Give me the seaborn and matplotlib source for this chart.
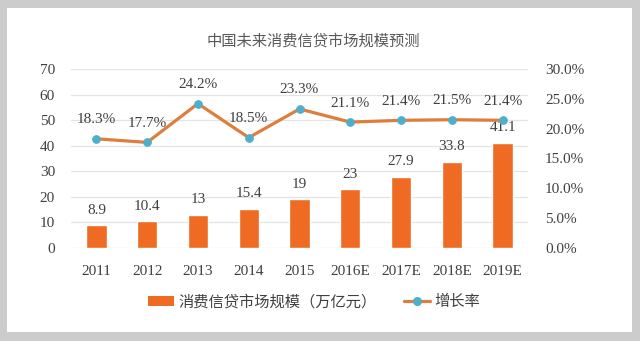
import numpy as np
import pandas as pd
import matplotlib
matplotlib.use("Agg")
import matplotlib.pyplot as plt
from matplotlib.patches import Patch, Rectangle
from matplotlib.lines import Line2D
from matplotlib.ticker import FuncFormatter, MultipleLocator
import seaborn as sns

years = ["2011", "2012", "2013", "2014", "2015", "2016E", "2017E", "2018E", "2019E"]
market_size = [8.9, 10.4, 13, 15.4, 19, 23, 27.9, 33.8, 41.1]
size_labels = ["8.9", "10.4", "13", "15.4", "19", "23", "27.9", "33.8", "41.1"]
growth_rate = [18.3, 17.7, 24.2, 18.5, 23.3, 21.1, 21.4, 21.5, 21.4]
title = "中国未来消费信贷市场规模预测"
bar_name = "消费信贷市场规模（万亿元）"
line_name = "增长率"

sns.set_theme(style="white")
plt.rcParams['font.family'] = ['Liberation Serif', 'Noto Sans CJK SC', 'DejaVu Sans']
cjk = ['Noto Sans CJK SC', 'DejaVu Sans']

BAR_C = "#EF6A22"
LINE_C = "#DF7D3C"
MARK_C = "#4FAFCB"
TXT_C = "#404040"
GRID_C = "#E3E3E3"

fig = plt.figure(figsize=(6.4, 3.41), dpi=100)
fig.patch.set_facecolor("#CCCCCC")
fig.patches.append(Rectangle((7 / 640, 1 - 332 / 341), (632 - 7) / 640, (332 - 8) / 341,
                             transform=fig.transFigure, facecolor="white",
                             edgecolor="none", zorder=-10))

ax = fig.add_axes([71 / 640, 1 - 248 / 341, (528 - 71) / 640, (248 - 69) / 341])
ax.set_facecolor("none")
df = pd.DataFrame({"year": years, "size": market_size, "rate": np.array(growth_rate) / 100})
df["pos"] = np.arange(len(years))

sns.barplot(data=df, x="year", y="size", ax=ax, color=BAR_C, saturation=1, width=0.4)
ax.set_ylim(0, 70)
ax.set_xlim(-0.5, len(years) - 0.5)
ax.yaxis.set_major_locator(MultipleLocator(10))
ax.grid(axis="y", color=GRID_C, linewidth=0.9)
ax.set_axisbelow(True)
for s in ax.spines.values():
    s.set_visible(False)
ax.tick_params(axis="both", length=0, labelsize=11, colors=TXT_C)
ax.tick_params(axis="y", pad=11.5)
ax.tick_params(axis="x", pad=12)
ax.set_xlabel("")
ax.set_ylabel("")

for p, v, lab in zip(ax.patches, market_size, size_labels):
    ax.annotate(lab, (p.get_x() + p.get_width() / 2, p.get_height()),
                xytext=(0, 10.8), textcoords="offset points", ha="center", va="center",
                fontsize=11, color=TXT_C)

ax2 = ax.twinx()
ax2.set_facecolor("none")
sns.lineplot(data=df, x="pos", y="rate", ax=ax2, color=LINE_C, linewidth=2.3,
             marker="o", markersize=5.5, markerfacecolor=MARK_C, markeredgecolor=MARK_C,
             zorder=5)
ax2.set_ylim(0, 0.30)
ax2.set_xlim(-0.5, len(years) - 0.5)
ax2.yaxis.set_major_locator(MultipleLocator(0.05))
ax2.yaxis.set_major_formatter(FuncFormatter(lambda v, _: f"{v * 100:.1f}%"))
for s in ax2.spines.values():
    s.set_visible(False)
ax2.tick_params(axis="y", length=0, labelsize=11, colors=TXT_C, pad=12.2)
ax2.set_xlabel("")
ax2.set_ylabel("")
ax2.grid(False)

for x, r in zip(df["pos"], growth_rate):
    ax2.annotate(f"{r:.1f}%", (x, r / 100), xytext=(0, 13.7), textcoords="offset points",
                 ha="center", va="center", fontsize=11, color=TXT_C)

fig.text(313 / 640, 1 - 41 / 341, title, ha="center", va="center", fontsize=11,
         color="#595959", family=cjk)

handles = [Patch(facecolor=BAR_C, edgecolor="none"),
           Line2D([0], [0], color=LINE_C, linewidth=2.3, marker="o", markersize=5.5,
                  markerfacecolor=MARK_C, markeredgecolor=MARK_C)]
leg = fig.legend(handles, [bar_name, line_name], loc="center", ncol=2,
                 bbox_to_anchor=(314 / 640, 1 - 301.7 / 341), frameon=False,
                 prop={"family": cjk, "size": 11}, handlelength=1.7, handleheight=0.6,
                 handletextpad=0.3, columnspacing=1.8, labelcolor=TXT_C)

fig.savefig("out.png", dpi=100, facecolor=fig.get_facecolor())
